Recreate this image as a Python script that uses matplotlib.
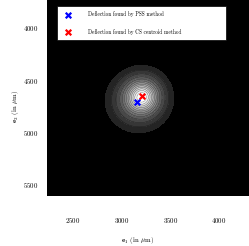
import numpy as np
import matplotlib.pyplot as plt

plt.rcParams['font.family'] = ['cmr10', 'DejaVu Serif']
plt.rcParams['mathtext.fontset'] = 'cm'
plt.rcParams['axes.formatter.use_mathtext'] = True

# beam spot (gaussian parameters, in um)
spot_x = [3215, 3165]
spot_y = [4655, 4705]
spot_sx = [110, 140]
spot_sy = [105, 125]
spot_amp = [1.0, 0.45]

# deflection points
pss_x, pss_y = [3157], [4712]
cs_x, cs_y = [3209], [4655]

x_ticks = [2500, 3000, 3500, 4000]
y_ticks = [4000, 4500, 5000, 5500]

gx = np.linspace(2200, 4350, 400)
gy = np.linspace(3700, 5650, 400)
X, Y = np.meshgrid(gx, gy)
Z = np.zeros_like(X)
for cx, cy, sx, sy, a in zip(spot_x, spot_y, spot_sx, spot_sy, spot_amp):
    Z += a * np.exp(-0.5 * (((X - cx) / sx) ** 2 + ((Y - cy) / sy) ** 2))
Z = Z / Z.max()

fig = plt.figure(figsize=(2.49, 2.46), dpi=100)
ax = fig.add_axes([0.189, 0.203, 0.811, 0.797])
ax.set_facecolor('black')

levels = np.concatenate([[0, 0.02, 0.06], np.linspace(0.12, 1.0, 12)])
greys = np.linspace(0.14, 1.0, len(levels) - 2)
band_colors = ['black'] + [str(g) for g in greys]
ax.contourf(X, Y, Z, levels=levels, colors=band_colors)
ax.contour(X, Y, Z, levels=levels[2:-1], colors='black', linewidths=0.3, alpha=0.6)

ax.scatter(pss_x, pss_y, marker='x', color='blue', s=16, linewidths=1.6,
           label='Deflection found by PSS method', zorder=5)
ax.scatter(cs_x, cs_y, marker='x', color='red', s=16, linewidths=1.6,
           label='Deflection found by CS centroid method', zorder=5)

ax.set_xlim(2233, 4308)
ax.set_ylim(5615, 3731)
ax.set_xticks(x_ticks)
ax.set_yticks(y_ticks)
ax.tick_params(length=0, labelsize=5)
ax.tick_params(axis='x', pad=14)
ax.tick_params(axis='y', pad=6)
for s in ax.spines.values():
    s.set_visible(False)

ax.set_xlabel(r'$\mathbf{e}_1$ (in $\mu$m)', fontsize=5)
ax.set_ylabel(r'$\mathbf{e}_2$ (in $\mu$m)', fontsize=5)
ax.xaxis.set_label_coords(0.45, -0.2)
ax.yaxis.set_label_coords(-0.13, 0.46)

leg = ax.legend(loc='upper left', bbox_to_anchor=(0.05, 0.78, 0.836, 0.19),
                mode='expand', fontsize=3.8,
                frameon=True, fancybox=False, framealpha=1, edgecolor='black',
                borderpad=1.0, labelspacing=2.2, handletextpad=2.8,
                borderaxespad=0, scatterpoints=1)
leg.get_frame().set_linewidth(0.5)

fig.savefig('out.png', dpi=100, facecolor='white')
